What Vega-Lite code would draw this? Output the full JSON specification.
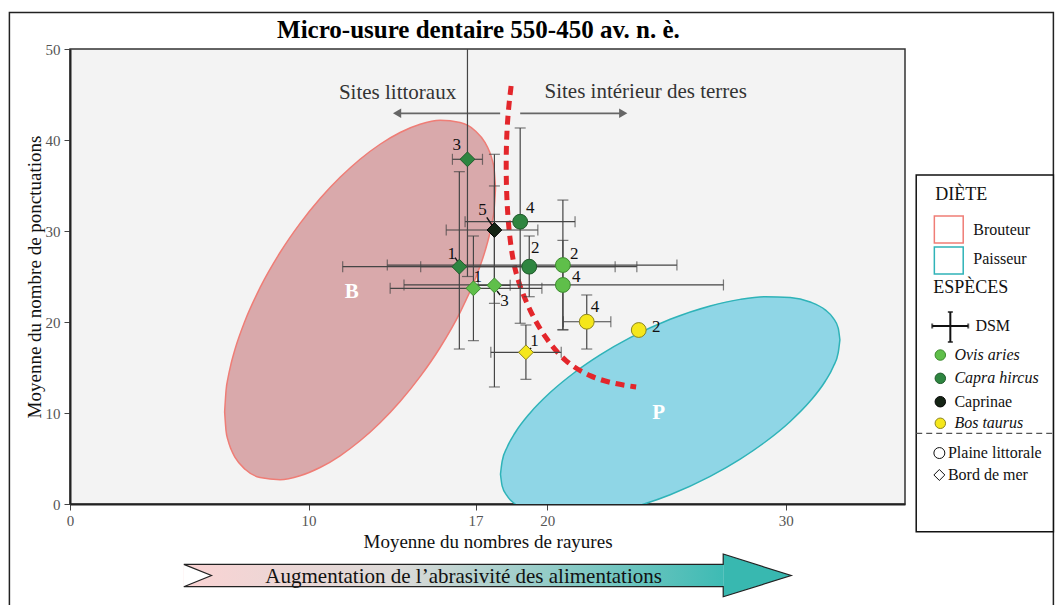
{
  "$schema": "https://vega.github.io/schema/vega-lite/v6.json",
  "width": 835,
  "height": 455,
  "autosize": {"type": "none"},
  "padding": {"left": 70, "top": 49, "right": 153, "bottom": 101},
  "background": "white",
  "config": {
    "view": {"fill": "#f3f3f3", "stroke": "#333", "strokeWidth": 1.5},
    "axis": {"grid": false, "labelFont": "Liberation Serif", "labelFontSize": 15, "labelColor": "#555", "tickColor": "#444", "tickSize": 6, "domainColor": "#222", "domainWidth": 2, "titleFont": "Liberation Serif", "titleFontSize": 19, "titleFontWeight": "normal", "titleColor": "#111", "labelFlush": false, "labelOverlap": false},
    "axisX": {"labelPadding": 3, "titlePadding": 4},
    "axisY": {"labelPadding": 4, "titlePadding": 1}
  },
  "datasets": {
    "ellB": [
      {"x": 6.482, "y": 10.126, "y2": 10.126},
      {"x": 6.541, "y": 12.473, "y2": 8.035},
      {"x": 6.625, "y": 13.880, "y2": 6.990},
      {"x": 6.751, "y": 15.408, "y2": 6.008},
      {"x": 6.918, "y": 17.015, "y2": 5.125},
      {"x": 7.338, "y": 20.144, "y2": 3.812},
      {"x": 7.966, "y": 23.769, "y2": 2.910},
      {"x": 8.805, "y": 27.636, "y2": 2.674},
      {"x": 9.644, "y": 30.840, "y2": 3.103},
      {"x": 10.482, "y": 33.567, "y2": 4.007},
      {"x": 11.321, "y": 35.902, "y2": 5.302},
      {"x": 12.159, "y": 37.888, "y2": 6.947},
      {"x": 12.998, "y": 39.533, "y2": 8.933},
      {"x": 13.836, "y": 40.829, "y2": 11.268},
      {"x": 14.675, "y": 41.732, "y2": 13.996},
      {"x": 15.514, "y": 42.162, "y2": 17.199},
      {"x": 16.352, "y": 41.925, "y2": 21.066},
      {"x": 16.981, "y": 41.023, "y2": 24.691},
      {"x": 17.400, "y": 39.710, "y2": 27.820},
      {"x": 17.568, "y": 38.827, "y2": 29.427},
      {"x": 17.694, "y": 37.845, "y2": 30.955},
      {"x": 17.778, "y": 36.800, "y2": 32.363},
      {"x": 17.836, "y": 34.709, "y2": 34.709}
    ],
    "ellP": [
      {"x": 18.044, "y": 3.273, "y2": 3.273},
      {"x": 18.113, "y": 4.689, "y2": 1.999},
      {"x": 18.323, "y": 6.235, "y2": 0.888},
      {"x": 18.658, "y": 7.829, "y2": -0.009},
      {"x": 19.287, "y": 10.008, "y2": -0.880},
      {"x": 20.126, "y": 12.247, "y2": -1.379},
      {"x": 21.174, "y": 14.508, "y2": -1.462},
      {"x": 22.222, "y": 16.390, "y2": -1.168},
      {"x": 23.480, "y": 18.284, "y2": -0.448},
      {"x": 25.157, "y": 20.297, "y2": 1.022},
      {"x": 26.834, "y": 21.767, "y2": 3.035},
      {"x": 28.092, "y": 22.487, "y2": 4.929},
      {"x": 29.140, "y": 22.780, "y2": 6.811},
      {"x": 30.189, "y": 22.698, "y2": 9.071},
      {"x": 31.027, "y": 22.199, "y2": 11.311},
      {"x": 31.656, "y": 21.327, "y2": 13.490},
      {"x": 31.992, "y": 20.431, "y2": 15.084},
      {"x": 32.201, "y": 19.320, "y2": 16.630},
      {"x": 32.271, "y": 18.046, "y2": 18.046}
    ],
    "curve": [
      {"i": 0, "x": 18.49, "y": 45.93},
      {"i": 1, "x": 18.36, "y": 43.08},
      {"i": 2, "x": 18.28, "y": 39.45},
      {"i": 3, "x": 18.28, "y": 35.05},
      {"i": 4, "x": 18.36, "y": 30.99},
      {"i": 5, "x": 18.53, "y": 27.14},
      {"i": 6, "x": 18.78, "y": 24.40},
      {"i": 7, "x": 19.29, "y": 21.10},
      {"i": 8, "x": 19.92, "y": 18.24},
      {"i": 9, "x": 20.75, "y": 15.60},
      {"i": 10, "x": 21.80, "y": 13.96},
      {"i": 11, "x": 22.85, "y": 13.19},
      {"i": 12, "x": 23.73, "y": 12.86}
    ],
    "pts": [
      {"sp": "Capra hircus", "site": "Bord de mer", "num": "3", "x": 16.66, "y": 37.88, "xmin": 16.03, "xmax": 17.29, "ymin": 25.0, "ymax": 50.8, "lx": 16.21, "ly": 39.45},
      {"sp": "Caprinae", "site": "Bord de mer", "num": "5", "x": 17.79, "y": 30.11, "xmin": 15.77, "xmax": 19.61, "ymin": 22.05, "ymax": 38.43, "lx": 17.29, "ly": 32.31},
      {"sp": "Capra hircus", "site": "Plaine littorale", "num": "4", "x": 18.87, "y": 31.02, "xmin": 16.56, "xmax": 21.17, "ymin": 19.86, "ymax": 41.32, "lx": 19.29, "ly": 32.49},
      {"sp": "Capra hircus", "site": "Plaine littorale", "num": "2", "x": 19.25, "y": 26.08, "xmin": 14.70, "xmax": 23.76, "ymin": 22.78, "ymax": 29.45, "lx": 19.50, "ly": 28.10},
      {"sp": "Capra hircus", "site": "Bord de mer", "num": "1", "x": 16.32, "y": 26.08, "xmin": 11.43, "xmax": 22.85, "ymin": 17.03, "ymax": 36.52, "lx": 16.00, "ly": 27.47},
      {"sp": "Ovis aries", "site": "Plaine littorale", "num": "2", "x": 20.66, "y": 26.26, "xmin": 13.30, "xmax": 25.44, "ymin": 19.12, "ymax": 33.40, "lx": 21.14, "ly": 27.47},
      {"sp": "Ovis aries", "site": "Plaine littorale", "num": "4", "x": 20.66, "y": 24.07, "xmin": 14.00, "xmax": 27.39, "ymin": 19.17, "ymax": 28.97, "lx": 21.22, "ly": 24.91},
      {"sp": "Ovis aries", "site": "Bord de mer", "num": "1", "x": 16.91, "y": 23.70, "xmin": 13.42, "xmax": 19.78, "ymin": 17.95, "ymax": 29.45, "lx": 17.09, "ly": 24.98},
      {"sp": "Ovis aries", "site": "Bord de mer", "num": "3", "x": 17.79, "y": 24.03, "xmin": 17.11, "xmax": 18.45, "ymin": 12.86, "ymax": 34.95, "lx": 18.21, "ly": 22.31},
      {"sp": "Bos taurus", "site": "Plaine littorale", "num": "4", "x": 21.66, "y": 20.03, "xmin": 20.68, "xmax": 22.67, "ymin": 17.03, "ymax": 22.97, "lx": 22.01, "ly": 21.68},
      {"sp": "Bos taurus", "site": "Plaine littorale", "num": "2", "x": 23.84, "y": 19.12, "xmin": null, "xmax": null, "ymin": null, "ymax": null, "lx": 24.57, "ly": 19.48},
      {"sp": "Bos taurus", "site": "Bord de mer", "num": "1", "x": 19.11, "y": 16.67, "xmin": 17.64, "xmax": 20.59, "ymin": 13.70, "ymax": 19.67, "lx": 19.47, "ly": 17.91}
    ],
    "pointers": [
      {"x": 17.47, "y": 31.51, "x2": 17.68, "y2": 30.66},
      {"x": 16.14, "y": 27.07, "x2": 16.27, "y2": 26.59},
      {"x": 19.08, "y": 31.65, "x2": 18.91, "y2": 31.21},
      {"x": 18.03, "y": 22.97, "x2": 17.90, "y2": 23.41},
      {"x": 19.33, "y": 17.14, "x2": 19.20, "y2": 16.81}
    ],
    "arrowOutline": [
      {"i": 0, "x": 4.77, "y": -6.63},
      {"i": 1, "x": 27.38, "y": -6.63},
      {"i": 2, "x": 27.38, "y": -5.49},
      {"i": 3, "x": 30.23, "y": -7.86},
      {"i": 4, "x": 27.38, "y": -10.19},
      {"i": 5, "x": 27.38, "y": -9.09},
      {"i": 6, "x": 4.77, "y": -9.09},
      {"i": 7, "x": 5.93, "y": -7.86},
      {"i": 8, "x": 4.77, "y": -6.63}
    ]
  },
  "layer": [
    {
      "data": {"values": [{"x": -2.54, "x2": 41.22, "y": 54.01, "y2": -11.7}]},
      "mark": {"type": "rect", "filled": false, "color": "#222", "strokeWidth": 1.5, "clip": false},
      "encoding": {"x": {"field": "x", "type": "quantitative"}, "x2": {"field": "x2"}, "y": {"field": "y", "type": "quantitative"}, "y2": {"field": "y2"}}
    },
    {
      "data": {"name": "ellB"},
      "mark": {"type": "area", "interpolate": "monotone", "fill": "#d9a9ab", "stroke": "#ef7d76", "strokeWidth": 1.5, "clip": true},
      "encoding": {
        "x": {"field": "x", "type": "quantitative", "scale": {"domain": [0, 35], "nice": false, "zero": false}, "title": "Moyenne du nombres de rayures", "axis": {"values": [0, 10, 17, 20, 30]}},
        "y": {"field": "y", "type": "quantitative", "scale": {"domain": [0, 50], "nice": false, "zero": false}, "title": "Moyenne du nombre de ponctuations", "axis": {"values": [0, 10, 20, 30, 40, 50]}},
        "y2": {"field": "y2"}
      }
    },
    {
      "data": {"name": "ellP"},
      "mark": {"type": "area", "interpolate": "monotone", "fill": "#8fd6e6", "stroke": "#2fb3b8", "strokeWidth": 1.5, "clip": true},
      "encoding": {"x": {"field": "x", "type": "quantitative"}, "y": {"field": "y", "type": "quantitative"}, "y2": {"field": "y2"}}
    },
    {
      "data": {"name": "curve"},
      "mark": {"type": "line", "interpolate": "basis", "color": "#e3262b", "strokeWidth": 5, "strokeDash": [9, 6], "clip": true},
      "encoding": {"x": {"field": "x", "type": "quantitative"}, "y": {"field": "y", "type": "quantitative"}, "order": {"field": "i", "type": "quantitative"}}
    },
    {
      "data": {"values": [{"x": 18.03, "x2": 13.71, "y": 42.93}, {"x": 18.87, "x2": 23.19, "y": 42.93}]},
      "mark": {"type": "rule", "color": "#666", "strokeWidth": 1.8},
      "encoding": {"x": {"field": "x", "type": "quantitative"}, "x2": {"field": "x2"}, "y": {"field": "y", "type": "quantitative"}}
    },
    {
      "data": {"values": [{"x": 13.71, "y": 42.93}]},
      "mark": {"type": "point", "shape": "triangle-left", "filled": true, "color": "#666", "size": 90, "opacity": 1},
      "encoding": {"x": {"field": "x", "type": "quantitative"}, "y": {"field": "y", "type": "quantitative"}}
    },
    {
      "data": {"values": [{"x": 23.19, "y": 42.93}]},
      "mark": {"type": "point", "shape": "triangle-right", "filled": true, "color": "#666", "size": 90, "opacity": 1},
      "encoding": {"x": {"field": "x", "type": "quantitative"}, "y": {"field": "y", "type": "quantitative"}}
    },
    {
      "data": {"values": [{"x": 13.73, "y": 45.16, "t": "Sites littoraux"}, {"x": 24.13, "y": 45.31, "t": "Sites intérieur des terres"}]},
      "mark": {"type": "text", "font": "Liberation Serif", "fontSize": 21, "color": "#333", "baseline": "middle"},
      "encoding": {"x": {"field": "x", "type": "quantitative"}, "y": {"field": "y", "type": "quantitative"}, "text": {"field": "t"}}
    },
    {
      "data": {"name": "pts"},
      "transform": [{"filter": "datum.xmin != null"}],
      "mark": {"type": "errorbar", "ticks": true, "size": 11, "thickness": 1.2, "color": "#454545", "clip": true},
      "encoding": {"x": {"field": "xmin", "type": "quantitative", "title": "Moyenne du nombres de rayures"}, "x2": {"field": "xmax"}, "y": {"field": "y", "type": "quantitative", "title": "Moyenne du nombre de ponctuations"}}
    },
    {
      "data": {"name": "pts"},
      "transform": [{"filter": "datum.ymin != null"}],
      "mark": {"type": "errorbar", "ticks": true, "size": 11, "thickness": 1.2, "color": "#454545", "clip": true},
      "encoding": {"y": {"field": "ymin", "type": "quantitative", "title": "Moyenne du nombre de ponctuations"}, "y2": {"field": "ymax"}, "x": {"field": "x", "type": "quantitative", "title": "Moyenne du nombres de rayures"}}
    },
    {
      "data": {"name": "pointers"},
      "mark": {"type": "rule", "color": "#111", "strokeWidth": 1.4},
      "encoding": {"x": {"field": "x", "type": "quantitative"}, "y": {"field": "y", "type": "quantitative"}, "x2": {"field": "x2"}, "y2": {"field": "y2"}}
    },
    {
      "data": {"name": "pts"},
      "mark": {"type": "point", "filled": true, "size": 220, "strokeWidth": 1, "opacity": 1},
      "encoding": {
        "x": {"field": "x", "type": "quantitative"},
        "y": {"field": "y", "type": "quantitative"},
        "shape": {"field": "site", "type": "nominal", "scale": {"domain": ["Plaine littorale", "Bord de mer"], "range": ["circle", "diamond"]}, "legend": null},
        "fill": {"field": "sp", "type": "nominal", "scale": {"domain": ["Ovis aries", "Capra hircus", "Caprinae", "Bos taurus"], "range": ["#5fbf4a", "#2e8540", "#142414", "#f5e71b"]}, "legend": null},
        "stroke": {"field": "sp", "type": "nominal", "scale": {"domain": ["Ovis aries", "Capra hircus", "Caprinae", "Bos taurus"], "range": ["#3d8a2f", "#1f5a2a", "#050505", "#8c8420"]}, "legend": null}
      }
    },
    {
      "data": {"name": "pts"},
      "mark": {"type": "text", "font": "Liberation Serif", "fontSize": 17, "color": "#111", "baseline": "middle"},
      "encoding": {"x": {"field": "lx", "type": "quantitative", "title": "Moyenne du nombres de rayures"}, "y": {"field": "ly", "type": "quantitative", "title": "Moyenne du nombre de ponctuations"}, "text": {"field": "num"}}
    },
    {
      "data": {"values": [{"x": 11.81, "y": 23.33, "t": "B"}, {"x": 24.67, "y": 9.97, "t": "P"}]},
      "mark": {"type": "text", "font": "Liberation Serif", "fontSize": 21, "fontWeight": "bold", "color": "white", "baseline": "middle"},
      "encoding": {"x": {"field": "x", "type": "quantitative"}, "y": {"field": "y", "type": "quantitative"}, "text": {"field": "t"}}
    },
    {
      "data": {"values": [{"x": 17.12, "y": 51.21, "t": "Micro-usure dentaire 550-450 av. n. è."}]},
      "mark": {"type": "text", "font": "Liberation Serif", "fontSize": 25, "fontWeight": "bold", "color": "#000", "baseline": "alphabetic", "clip": false},
      "encoding": {"x": {"field": "x", "type": "quantitative"}, "y": {"field": "y", "type": "quantitative"}, "text": {"field": "t"}}
    },
    {
      "data": {"values": [{"x": 4.77, "x2": 27.38, "y": -6.63, "y2": -9.09}]},
      "mark": {"type": "rect", "clip": false, "fill": {"gradient": "linear", "x1": 0, "y1": 0, "x2": 1, "y2": 0, "stops": [{"offset": 0, "color": "#fad3d3"}, {"offset": 0.4, "color": "#dcdad8"}, {"offset": 1, "color": "#3ebbb4"}]}},
      "encoding": {"x": {"field": "x", "type": "quantitative"}, "x2": {"field": "x2"}, "y": {"field": "y", "type": "quantitative"}, "y2": {"field": "y2"}}
    },
    {
      "data": {"values": [{"x": 27.38, "y": -5.49, "y2": -10.19}, {"x": 30.23, "y": -7.86, "y2": -7.86}]},
      "mark": {"type": "area", "clip": false, "color": "#38b8b0", "opacity": 1},
      "encoding": {"x": {"field": "x", "type": "quantitative"}, "y": {"field": "y", "type": "quantitative"}, "y2": {"field": "y2"}}
    },
    {
      "data": {"values": [{"x": 4.77, "y": -6.63, "y2": -9.09}, {"x": 5.93, "y": -7.86, "y2": -7.86}]},
      "mark": {"type": "area", "clip": false, "color": "white", "opacity": 1},
      "encoding": {"x": {"field": "x", "type": "quantitative"}, "y": {"field": "y", "type": "quantitative"}, "y2": {"field": "y2"}}
    },
    {
      "data": {"name": "arrowOutline"},
      "mark": {"type": "line", "clip": false, "color": "#222", "strokeWidth": 1.2, "interpolate": "linear"},
      "encoding": {"x": {"field": "x", "type": "quantitative"}, "y": {"field": "y", "type": "quantitative"}, "order": {"field": "i", "type": "quantitative"}}
    },
    {
      "data": {"values": [{"x": 16.5, "y": -8.02, "t": "Augmentation de l’abrasivité des alimentations"}]},
      "mark": {"type": "text", "font": "Liberation Serif", "fontSize": 21, "color": "#111", "baseline": "middle", "clip": false},
      "encoding": {"x": {"field": "x", "type": "quantitative"}, "y": {"field": "y", "type": "quantitative"}, "text": {"field": "t"}}
    },
    {
      "data": {"values": [{"x": 35.47, "x2": 41.22, "y": 36.15, "y2": -3.04}]},
      "mark": {"type": "rect", "fill": "white", "stroke": "#111", "strokeWidth": 1.5, "clip": false},
      "encoding": {"x": {"field": "x", "type": "quantitative"}, "x2": {"field": "x2"}, "y": {"field": "y", "type": "quantitative"}, "y2": {"field": "y2"}}
    },
    {
      "data": {"values": [{"x": 36.23, "x2": 37.44, "y": 31.65, "y2": 28.68}]},
      "mark": {"type": "rect", "fill": "white", "stroke": "#ef7d76", "strokeWidth": 1.5, "clip": false},
      "encoding": {"x": {"field": "x", "type": "quantitative"}, "x2": {"field": "x2"}, "y": {"field": "y", "type": "quantitative"}, "y2": {"field": "y2"}}
    },
    {
      "data": {"values": [{"x": 36.23, "x2": 37.44, "y": 28.24, "y2": 25.27}]},
      "mark": {"type": "rect", "fill": "white", "stroke": "#2fb3b8", "strokeWidth": 1.5, "clip": false},
      "encoding": {"x": {"field": "x", "type": "quantitative"}, "x2": {"field": "x2"}, "y": {"field": "y", "type": "quantitative"}, "y2": {"field": "y2"}}
    },
    {
      "data": {"values": [{"x": 36.27, "y": 33.96, "t": "DIÈTE"}, {"x": 36.18, "y": 23.74, "t": "ESPÈCES"}]},
      "mark": {"type": "text", "font": "Liberation Serif", "fontSize": 18, "color": "#111", "align": "left", "baseline": "middle", "clip": false},
      "encoding": {"x": {"field": "x", "type": "quantitative"}, "y": {"field": "y", "type": "quantitative"}, "text": {"field": "t"}}
    },
    {
      "data": {"values": [{"x": 37.86, "y": 30.1, "t": "Brouteur"}, {"x": 37.86, "y": 26.9, "t": "Paisseur"}, {"x": 37.95, "y": 19.56, "t": "DSM"}, {"x": 37.07, "y": 11.24, "t": "Caprinae"}, {"x": 36.8, "y": 5.6, "t": "Plaine littorale"}, {"x": 36.8, "y": 3.19, "t": "Bord de mer"}]},
      "mark": {"type": "text", "font": "Liberation Serif", "fontSize": 16, "color": "#111", "align": "left", "baseline": "middle", "clip": false},
      "encoding": {"x": {"field": "x", "type": "quantitative"}, "y": {"field": "y", "type": "quantitative"}, "text": {"field": "t"}}
    },
    {
      "data": {"values": [{"x": 37.07, "y": 16.37, "t": "Ovis aries"}, {"x": 37.07, "y": 13.81, "t": "Capra hircus"}, {"x": 37.07, "y": 8.87, "t": "Bos taurus"}]},
      "mark": {"type": "text", "font": "Liberation Serif", "fontSize": 16, "fontStyle": "italic", "color": "#111", "align": "left", "baseline": "middle", "clip": false},
      "encoding": {"x": {"field": "x", "type": "quantitative"}, "y": {"field": "y", "type": "quantitative"}, "text": {"field": "t"}}
    },
    {
      "data": {"values": [{"x": 36.14, "x2": 37.65, "y": 19.56}]},
      "mark": {"type": "errorbar", "ticks": true, "size": 5, "thickness": 2, "color": "#111"},
      "encoding": {"x": {"field": "x", "type": "quantitative", "title": "Moyenne du nombres de rayures"}, "x2": {"field": "x2"}, "y": {"field": "y", "type": "quantitative", "title": "Moyenne du nombre de ponctuations"}}
    },
    {
      "data": {"values": [{"x": 36.9, "y": 21.1, "y2": 17.8}]},
      "mark": {"type": "errorbar", "ticks": true, "size": 5, "thickness": 2, "color": "#111"},
      "encoding": {"y": {"field": "y", "type": "quantitative", "title": "Moyenne du nombre de ponctuations"}, "y2": {"field": "y2"}, "x": {"field": "x", "type": "quantitative", "title": "Moyenne du nombres de rayures"}}
    },
    {
      "data": {"values": [{"sp": "Ovis aries", "x": 36.48, "y": 16.37}, {"sp": "Capra hircus", "x": 36.48, "y": 13.81}, {"sp": "Caprinae", "x": 36.48, "y": 11.24}, {"sp": "Bos taurus", "x": 36.48, "y": 8.87}]},
      "mark": {"type": "point", "filled": true, "size": 110, "strokeWidth": 1, "opacity": 1, "shape": "circle", "clip": false},
      "encoding": {"x": {"field": "x", "type": "quantitative"}, "y": {"field": "y", "type": "quantitative"}, "fill": {"field": "sp", "type": "nominal"}, "stroke": {"field": "sp", "type": "nominal"}}
    },
    {
      "data": {"values": [{"x": 35.47, "x2": 41.22, "y": 7.77}]},
      "mark": {"type": "rule", "color": "#555", "strokeWidth": 1.2, "strokeDash": [6, 4], "clip": false},
      "encoding": {"x": {"field": "x", "type": "quantitative"}, "x2": {"field": "x2"}, "y": {"field": "y", "type": "quantitative"}}
    },
    {
      "data": {"values": [{"site": "Plaine littorale", "x": 36.44, "y": 5.6}, {"site": "Bord de mer", "x": 36.44, "y": 3.19}]},
      "mark": {"type": "point", "filled": false, "size": 120, "strokeWidth": 1, "color": "#111", "opacity": 1, "clip": false},
      "encoding": {"x": {"field": "x", "type": "quantitative"}, "y": {"field": "y", "type": "quantitative"}, "shape": {"field": "site", "type": "nominal"}}
    }
  ]
}
